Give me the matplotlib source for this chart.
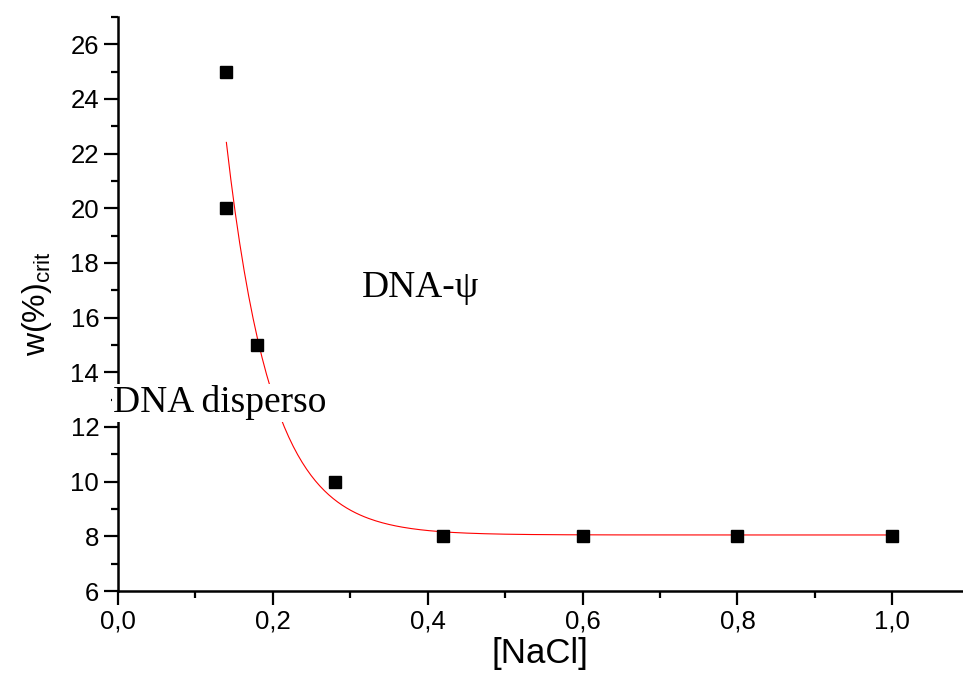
import numpy as np
import matplotlib
matplotlib.use("Agg")
import matplotlib.pyplot as plt
from matplotlib.ticker import MultipleLocator, FuncFormatter

#measured points
nacl = [0.14, 0.14, 0.18, 0.28, 0.42, 0.6, 0.8, 1.0]
w_crit = [25, 20, 15, 10, 8, 8, 8, 8]

#exponential decay fit: y = y0 + A*exp(-x/t)
fit_y0 = 8.05
fit_A = 160.5
fit_t = 0.058
fit_range = (0.14, 1.0)

plt.rcParams['font.family'] = ['Liberation Sans', 'DejaVu Sans']
plt.rcParams['mathtext.default'] = 'regular'

fig = plt.figure(figsize=(9.63, 6.78), dpi=100)
ax = fig.add_axes([0.1225, 0.1283, 0.8765, 0.8467])

xf = np.linspace(fit_range[0], fit_range[1], 300)
yf = fit_y0 + fit_A * np.exp(-xf / fit_t)
ax.plot(xf, yf, color='red', lw=0.8, zorder=2)
ax.plot(nacl, w_crit, 's', color='black', ms=9, zorder=3)

ax.set_xlim(0, 1.09)
ax.set_ylim(6, 27)
for s in ['top', 'right']:
    ax.spines[s].set_visible(False)
for s in ['left', 'bottom']:
    ax.spines[s].set_linewidth(1.8)

ax.xaxis.set_major_locator(MultipleLocator(0.2))
ax.xaxis.set_minor_locator(MultipleLocator(0.1))
ax.yaxis.set_major_locator(MultipleLocator(2))
ax.yaxis.set_minor_locator(MultipleLocator(1))
ax.xaxis.set_major_formatter(FuncFormatter(lambda v, p: f"{v:.1f}".replace('.', ',')))
ax.tick_params(which='major', direction='out', length=10, width=1.6, labelsize=18.5)
ax.tick_params(which='minor', direction='out', length=5, width=1.6)

ax.set_xlabel('[NaCl]', fontsize=25, labelpad=2)
ax.set_ylabel('w(%)$_{crit}$', fontsize=23, labelpad=12)

ax.text(0.315, 16.75, 'DNA-ψ', family=['Liberation Serif', 'DejaVu Serif'],
        fontsize=27, zorder=5)
ax.text(-0.006, 12.54, 'DNA disperso', family=['Liberation Serif', 'DejaVu Serif'],
        fontsize=27, zorder=5, clip_on=False,
        bbox=dict(facecolor='white', edgecolor='none', pad=1))

fig.savefig('out.png', dpi=100)
